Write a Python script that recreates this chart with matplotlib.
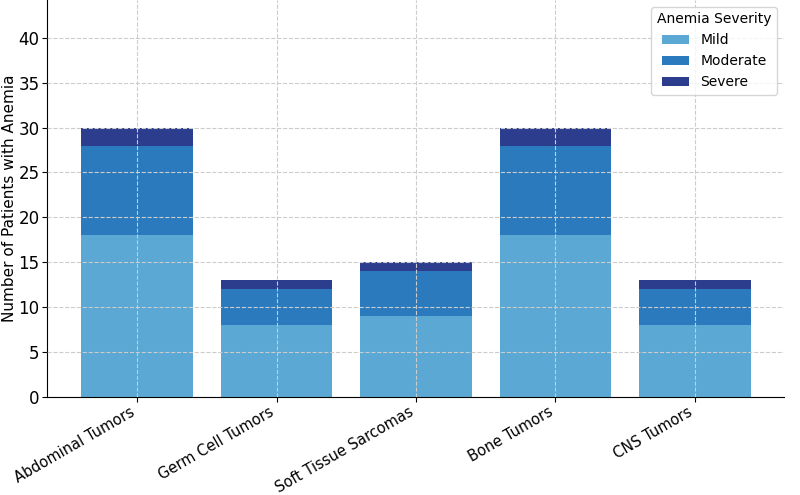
import matplotlib
matplotlib.use("Agg")
import matplotlib.pyplot as plt
import numpy as np

# data
categories = ["Abdominal Tumors", "Germ Cell Tumors", "Soft Tissue Sarcomas",
              "Bone Tumors", "CNS Tumors"]
mild = [18, 8, 9, 18, 8]
moderate = [10, 4, 5, 10, 4]
severe = [2, 1, 1, 2, 1]


def main():
    fig = plt.figure(figsize=(8, 4.95), dpi=100)
    ax = fig.add_axes([0.059, 0.198, 0.921, 0.802])

    x = np.arange(len(categories))
    mild_a = np.array(mild)
    mod_a = np.array(moderate)

    ax.bar(x, mild, width=0.8, color="#5aa8d3", label="Mild", zorder=2)
    ax.bar(x, moderate, width=0.8, bottom=mild_a, color="#2b7abd",
           label="Moderate", zorder=2)
    ax.bar(x, severe, width=0.8, bottom=mild_a + mod_a, color="#2d3d8e",
           label="Severe", zorder=2)

    ax.set_ylim(0, 44.2)
    ax.set_xlim(-0.645, 4.64)
    ax.set_yticks(range(0, 45, 5))
    ax.set_xticks(x)
    ax.set_xticklabels(categories, rotation=30, ha="right", fontsize=10.5)
    ax.tick_params(axis="y", labelsize=12, pad=2)
    ax.tick_params(axis="x", pad=2)
    ax.set_ylabel("Number of Patients with Anemia", fontsize=11, labelpad=1)

    ax.grid(True, linestyle="--", color="#cccccc", linewidth=0.8, zorder=3)
    ax.set_axisbelow(False)
    for s in ["top", "right"]:
        ax.spines[s].set_visible(False)

    leg = ax.legend(title="Anemia Severity", loc="upper right", fontsize=10,
                    title_fontsize=10)
    leg.set_zorder(5)

    fig.savefig("out.png", dpi=100)


if __name__ == '__main__':
    main()
